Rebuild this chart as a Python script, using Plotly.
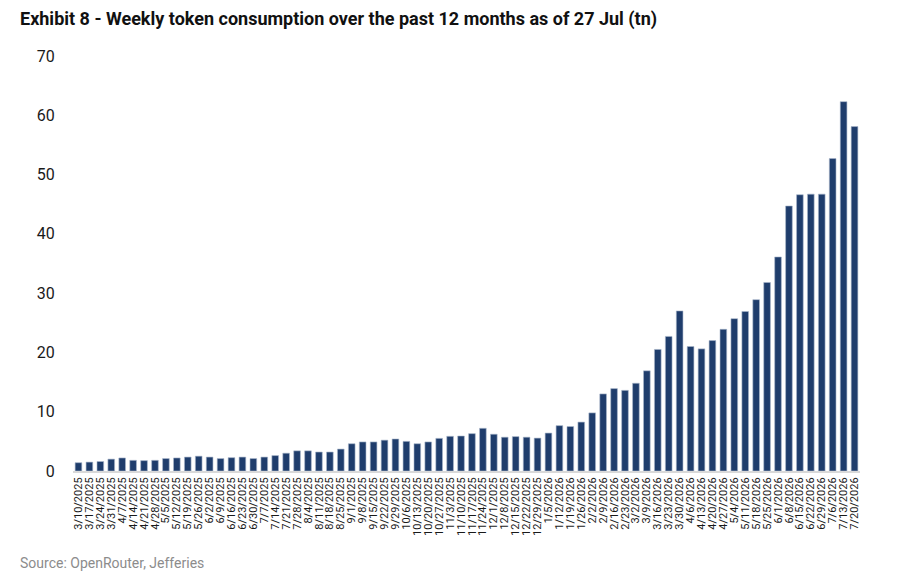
import plotly.graph_objects as go

# Weekly token consumption (tn)
week_labels = [
    "3/10/2025", "3/17/2025", "3/24/2025", "3/31/2025", "4/7/2025", "4/14/2025",
    "4/21/2025", "4/28/2025", "5/5/2025", "5/12/2025", "5/19/2025", "5/26/2025",
    "6/2/2025", "6/9/2025", "6/16/2025", "6/23/2025", "6/30/2025", "7/7/2025",
    "7/14/2025", "7/21/2025", "7/28/2025", "8/4/2025", "8/11/2025", "8/18/2025",
    "8/25/2025", "9/1/2025", "9/8/2025", "9/15/2025", "9/22/2025", "9/29/2025",
    "10/6/2025", "10/13/2025", "10/20/2025", "10/27/2025", "11/3/2025", "11/10/2025",
    "11/17/2025", "11/24/2025", "12/1/2025", "12/8/2025", "12/15/2025", "12/22/2025",
    "12/29/2025", "1/5/2026", "1/12/2026", "1/19/2026", "1/26/2026", "2/2/2026",
    "2/9/2026", "2/16/2026", "2/23/2026", "3/2/2026", "3/9/2026", "3/16/2026",
    "3/23/2026", "3/30/2026", "4/6/2026", "4/13/2026", "4/20/2026", "4/27/2026",
    "5/4/2026", "5/11/2026", "5/18/2026", "5/25/2026", "6/1/2026", "6/8/2026",
    "6/15/2026", "6/22/2026", "6/29/2026", "7/6/2026", "7/13/2026", "7/20/2026",
]

tokens_tn = [
    1.4, 1.5, 1.6, 2.0, 2.2, 1.8, 1.75, 1.8, 2.1, 2.2, 2.35, 2.5,
    2.35, 2.1, 2.25, 2.35, 2.1, 2.35, 2.6, 3.0, 3.4, 3.4, 3.2, 3.2,
    3.7, 4.6, 4.9, 4.9, 5.2, 5.4, 5.0, 4.6, 4.9, 5.5, 5.85, 5.9,
    6.3, 7.2, 6.2, 5.7, 5.8, 5.7, 5.55, 6.4, 7.65, 7.5, 8.25, 9.8,
    13.0, 13.9, 13.6, 14.8, 16.9, 20.5, 22.7, 27.0, 21.0, 20.6, 22.0, 23.9,
    25.7, 26.9, 28.9, 31.8, 36.1, 44.7, 46.6, 46.7, 46.7, 52.7, 62.3, 58.1,
]

y_ticks = [0, 10, 20, 30, 40, 50, 60, 70]

# page body has an 8px default margin, so the figure is a bit smaller than the window
W, H = 892, 568
L, R, T, B = 65, 40, 48, 105
pw, ph = W - L - R, H - T - B

fig = go.Figure(go.Bar(
    x=week_labels,
    y=tokens_tn,
    marker_color="#1f3d6c",
    marker_line=dict(color="#a9b7cb", width=0.6),
))

fig.update_layout(
    width=W, height=H,
    margin=dict(l=L, r=R, t=T, b=B),
    plot_bgcolor="white",
    paper_bgcolor="white",
    font=dict(family="Roboto", color="#1a1a1a"),
    bargap=0.39,
    showlegend=False,
)

fig.update_xaxes(
    type="category",
    tickmode="array", tickvals=week_labels, ticktext=week_labels,
    tickangle=-90,
    tickfont=dict(size=11, color="#1a1a1a"),
    showline=True, linecolor="#d9d9d9", linewidth=2,
    showgrid=False, ticks="",
)
fig.update_yaxes(
    range=[0, 70],
    tickvals=y_ticks,
    tickfont=dict(size=16, color="#1a1a1a"),
    showgrid=False, zeroline=False, showline=False,
    ticks="outside", ticklen=14, tickcolor="rgba(0,0,0,0)",
)

# title and sources
fig.add_annotation(
    text="<b>Exhibit 8 - Weekly token consumption over the past 12 months as of 27 Jul (tn)</b>",
    xref="paper", yref="paper", x=(10 - L) / pw, y=1 + (T - 11) / ph,
    xanchor="left", yanchor="middle", showarrow=False,
    font=dict(size=18, color="#111111", family="Roboto"),
)
fig.add_annotation(
    text="Source: OpenRouter, Jefferies",
    xref="paper", yref="paper", x=(10 - L) / pw, y=1 + (T + 12) / ph,
    xanchor="left", yanchor="middle", showarrow=False,
    font=dict(size=14, color="#9a9a9a", family="Roboto"),
)
fig.add_annotation(
    text="Source: OpenRouter, Jefferies",
    xref="paper", yref="paper", x=(10 - L) / pw, y=-(555 - (H - B)) / ph,
    xanchor="left", yanchor="middle", showarrow=False,
    font=dict(size=14, color="#8c8c8c", family="Roboto"),
)

fig.write_html("out.html")
